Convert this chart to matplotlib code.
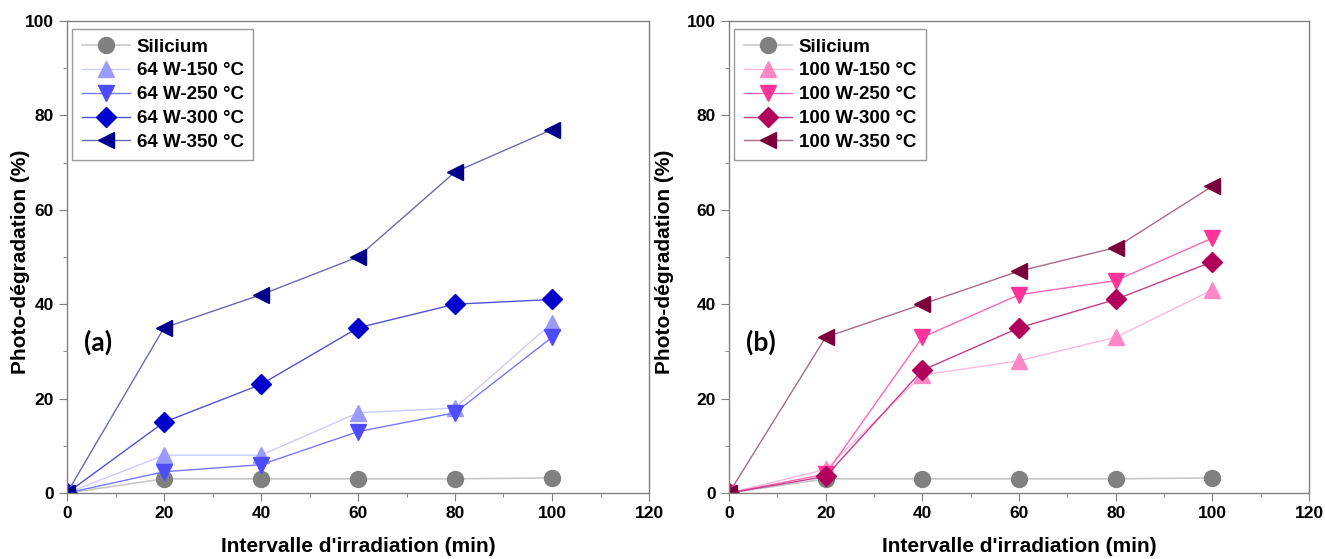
import matplotlib
matplotlib.use("Agg")
import matplotlib.pyplot as plt
from matplotlib.ticker import MultipleLocator

x = [0, 20, 40, 60, 80, 100]

silicium = [0, 3, 3, 3, 3, 3.2]

a_labels = ["64 W-150 °C", "64 W-250 °C", "64 W-300 °C", "64 W-350 °C"]
a_150 = [0, 8, 8, 17, 18, 36]
a_250 = [0, 4.5, 6, 13, 17, 33]
a_300 = [0, 15, 23, 35, 40, 41]
a_350 = [0, 35, 42, 50, 68, 77]

b_labels = ["100 W-150 °C", "100 W-250 °C", "100 W-300 °C", "100 W-350 °C"]
b_150 = [0, 5, 25, 28, 33, 43]
b_250 = [0, 4, 33, 42, 45, 54]
b_300 = [0, 3.5, 26, 35, 41, 49]
b_350 = [0, 33, 40, 47, 52, 65]

a_colors = ["#9a9aff", "#4d4dff", "#0000cc", "#00008b"]
a_line = ["#ccccff", "#7777ff", "#5050d8", "#6a6ab0"]
b_colors = ["#ff88c4", "#ff3399", "#b0005c", "#7a003c"]
b_line = ["#ffb8dc", "#ff66b2", "#c0408a", "#a86a8a"]
markers = ["^", "v", "D", "<"]
msizes = [12, 12, 10, 12]

plt.rcParams['font.family'] = ['Liberation Sans', 'DejaVu Sans']
plt.rcParams['font.weight'] = 'bold'

fig = plt.figure(figsize=(13.25, 5.59), dpi=100)
ax1 = fig.add_axes([67/1325, 1-493/559, (649-67)/1325, (493-21)/559])
ax2 = fig.add_axes([729/1325, 1-493/559, (1309-729)/1325, (493-21)/559])

def draw(ax, series, labels, colors, lcolors, tag, ylab_x, leg_x):
    h, = ax.plot(x, silicium, color="#c8c8c8", lw=1.2, marker="o", ms=11.5,
                 mfc="#808080", mec="#808080", label="Silicium")
    handles = [h]
    for ys, lab, c, lc, m, s in zip(series, labels, colors, lcolors, markers, msizes):
        hh, = ax.plot(x, ys, color=lc, lw=1.0, marker=m, ms=s, mfc=c, mec=c, label=lab)
        handles.append(hh)
    ax.set_xlim(0, 120)
    ax.set_ylim(0, 100)
    ax.xaxis.set_major_locator(MultipleLocator(20))
    ax.xaxis.set_minor_locator(MultipleLocator(10))
    ax.yaxis.set_major_locator(MultipleLocator(20))
    ax.yaxis.set_minor_locator(MultipleLocator(10))
    ax.tick_params(which="both", direction="out", color="#808080", top=False, right=False)
    ax.tick_params(which="major", length=6, labelsize=12.5)
    ax.tick_params(which="minor", length=3)
    for sp in ax.spines.values():
        sp.set_color("#808080")
        sp.set_linewidth(1.0)
    for lab in ax.get_xticklabels() + ax.get_yticklabels():
        lab.set_fontweight("bold")
    ax.set_xlabel("Intervalle d'irradiation (min)", fontsize=15, fontweight="bold")
    ax.xaxis.set_label_coords(0.5, -0.093)
    ax.set_ylabel("Photo-dégradation (%)", fontsize=15, fontweight="bold")
    ax.yaxis.set_label_coords(ylab_x, 0.49)
    leg = ax.legend(handles=handles, loc="upper left", fontsize=13.5, frameon=True,
                    fancybox=False, edgecolor="#808080", handlelength=2.6,
                    borderpad=0.5, labelspacing=0.36, handletextpad=0.35,
                    borderaxespad=0, bbox_to_anchor=(leg_x, 0.983))
    leg.get_frame().set_linewidth(1.0)
    for t in leg.get_texts():
        t.set_fontweight("bold")
    ax.text(0.03, 0.32, tag, transform=ax.transAxes, fontsize=19,
            fontweight="bold", family=["Lato", "DejaVu Sans"], va="center")

draw(ax1, [a_150, a_250, a_300, a_350], a_labels, a_colors, a_line, "(a)", -0.064, 0.009)
draw(ax2, [b_150, b_250, b_300, b_350], b_labels, b_colors, b_line, "(b)", -0.095, 0.009)

fig.savefig("out.png", dpi=100)
